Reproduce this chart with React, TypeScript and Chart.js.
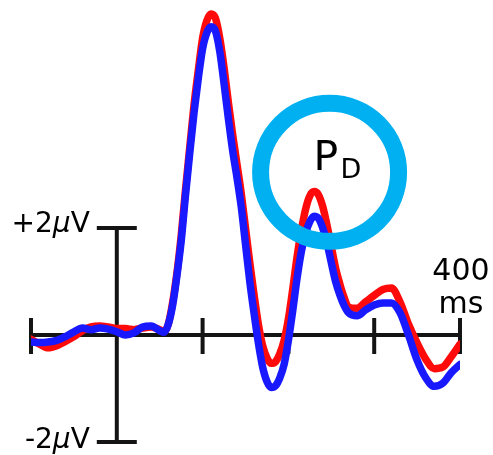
import React, { useEffect, useRef } from "react";
import { Chart, registerables } from "chart.js";

Chart.register(...registerables);

const times = [-100,-90,-80,-70,-60,-50,-40,-30,-20,-10,0,10,20,30,40,50,55,60,65,70,75,80,85,90,95,100,105,110,115,120,125,130,135,140,145,150,155,160,165,170,175,180,185,190,195,200,205,210,215,220,225,230,235,240,245,250,255,260,265,270,280,290,300,310,320,330,340,350,360,370,380,390,400];

const blueValues = [-0.13,-0.14,-0.13,-0.1,-0.03,0.06,0.13,0.1,0.13,0.11,0.06,0.0,0.04,0.15,0.17,0.08,0.05,0.2,0.55,1.1,1.75,2.6,3.4,4.15,4.8,5.35,5.65,5.76,5.68,5.3,4.7,4.05,3.45,2.95,2.4,1.7,1.0,0.4,-0.15,-0.6,-0.87,-0.98,-0.95,-0.8,-0.55,-0.1,0.45,1.05,1.55,1.9,2.12,2.22,2.18,2.0,1.72,1.35,1.0,0.75,0.55,0.42,0.36,0.47,0.56,0.6,0.6,0.42,0.0,-0.47,-0.8,-0.96,-0.9,-0.7,-0.55];

const redValues = [-0.08,-0.17,-0.24,-0.2,-0.12,-0.03,0.08,0.15,0.17,0.15,0.12,0.12,0.1,0.13,0.15,0.1,0.06,0.2,0.6,1.15,1.85,2.7,3.5,4.3,4.95,5.55,5.88,6.0,5.92,5.55,5.0,4.35,3.75,3.2,2.65,2.0,1.35,0.75,0.2,-0.2,-0.43,-0.53,-0.5,-0.35,-0.1,0.3,0.85,1.45,1.95,2.35,2.6,2.68,2.62,2.4,2.05,1.65,1.25,0.95,0.7,0.52,0.5,0.62,0.74,0.85,0.88,0.62,0.2,-0.15,-0.45,-0.63,-0.6,-0.4,-0.17];

const xTicks = [-100, 100, 200, 300, 400];
const yCaps = [2, -2];
const yLabels = ["+2", "-2"];
const xEndLabel = ["400", "ms"];
const circleCenter = [248, 3.04];
const circleText = ["P", "D"];

const X_MIN = -100;
const X_MAX = 400;
const PX_PER_UV = 53.5;
const ZERO_Y = 335;
const H = 455;
const Y_MAX = ZERO_Y / PX_PER_UV;
const Y_MIN = -(H - ZERO_Y) / PX_PER_UV;

const FONT = '"DejaVu Sans", sans-serif';

const axesPlugin = {
  id: "erpAxes",
  beforeDatasetsDraw(chart: any) {
    const { ctx, scales } = chart;
    const xs = scales.x;
    const ys = scales.y;
    const y0 = ys.getPixelForValue(0);
    const x0 = xs.getPixelForValue(0);
    ctx.save();
    ctx.strokeStyle = "#141414";
    ctx.lineWidth = 4;
    ctx.lineCap = "butt";
    ctx.beginPath();
    ctx.moveTo(xs.getPixelForValue(X_MIN), y0);
    ctx.lineTo(xs.getPixelForValue(X_MAX), y0);
    for (const t of xTicks) {
      const px = xs.getPixelForValue(t);
      ctx.moveTo(px, y0 - 17);
      ctx.lineTo(px, y0 + 19);
    }
    const yTop = ys.getPixelForValue(yCaps[0]);
    const yBot = ys.getPixelForValue(yCaps[1]);
    ctx.moveTo(x0, yTop);
    ctx.lineTo(x0, yBot);
    for (const c of yCaps) {
      const py = ys.getPixelForValue(c);
      ctx.moveTo(x0 - 20, py);
      ctx.lineTo(x0 + 20, py);
    }
    ctx.stroke();
    ctx.restore();
  },
  afterDatasetsDraw(chart: any) {
    const { ctx, scales } = chart;
    const xs = scales.x;
    const ys = scales.y;
    const x0 = xs.getPixelForValue(0);
    ctx.save();
    ctx.fillStyle = "#000";
    ctx.textBaseline = "alphabetic";
    yCaps.forEach((c, i) => {
      const py = ys.getPixelForValue(c) + (i === 0 ? 4 : 6);
      const right = x0 - 27;
      ctx.font = `28px ${FONT}`;
      const wV = ctx.measureText("V").width;
      ctx.font = `italic 28px ${FONT}`;
      const wMu = ctx.measureText("\u03bc").width;
      ctx.font = `28px ${FONT}`;
      const wNum = ctx.measureText(yLabels[i]).width;
      let x = right - wV - wMu - wNum;
      ctx.textAlign = "left";
      ctx.fillText(yLabels[i], x, py);
      x += wNum;
      ctx.font = `italic 28px ${FONT}`;
      ctx.fillText("\u03bc", x, py);
      x += wMu;
      ctx.font = `28px ${FONT}`;
      ctx.fillText("V", x, py);
    });
    const xEnd = xs.getPixelForValue(X_MAX) + 1;
    ctx.textAlign = "center";
    ctx.font = `30px ${FONT}`;
    ctx.fillText(xEndLabel[0], xEnd, ys.getPixelForValue(0) - 55);
    ctx.fillText(xEndLabel[1], xEnd, ys.getPixelForValue(0) - 22);
    const cx = xs.getPixelForValue(circleCenter[0]);
    const cy = ys.getPixelForValue(circleCenter[1]);
    ctx.strokeStyle = "#00B0F0";
    ctx.lineWidth = 17;
    ctx.beginPath();
    ctx.arc(cx, cy, 69, 0, Math.PI * 2);
    ctx.stroke();
    ctx.textAlign = "left";
    ctx.font = `41px ${FONT}`;
    ctx.fillText(circleText[0], cx - 16, cy - 2);
    ctx.font = `27px ${FONT}`;
    ctx.fillText(circleText[1], cx + 11, cy + 6);
    ctx.restore();
  },
};

export default function App() {
  const ref = useRef<HTMLCanvasElement>(null);
  useEffect(() => {
    if (!ref.current) return;
    const common = {
      borderWidth: 7.5,
      pointRadius: 0,
      cubicInterpolationMode: "monotone",
      borderCapStyle: "round",
      borderJoinStyle: "round",
      fill: false,
    };
    const chart = new Chart(ref.current, {
      type: "line",
      data: {
        datasets: [
          {
            ...common,
            label: "blue",
            data: times.map((t, i) => ({ x: t, y: blueValues[i] })),
            borderColor: "rgb(25,25,255)",
          },
          {
            ...common,
            label: "red",
            data: times.map((t, i) => ({ x: t, y: redValues[i] })),
            borderColor: "rgb(255,10,10)",
          },
        ],
      } as any,
      options: {
        animation: false,
        responsive: false,
        devicePixelRatio: 1,
        layout: { padding: { left: 31, right: 33, top: 0, bottom: 0 } },
        scales: {
          x: { type: "linear", min: X_MIN, max: X_MAX, display: false },
          y: { type: "linear", min: Y_MIN, max: Y_MAX, display: false },
        },
        plugins: { legend: { display: false }, tooltip: { enabled: false } },
      } as any,
      plugins: [axesPlugin],
    });
    return () => chart.destroy();
  }, []);
  return (
    <div style={{ position: "absolute", left: 0, top: 0, width: 493, height: 455, background: "#fff" }}>
      <canvas ref={ref} width={493} height={455} />
    </div>
  );
}
